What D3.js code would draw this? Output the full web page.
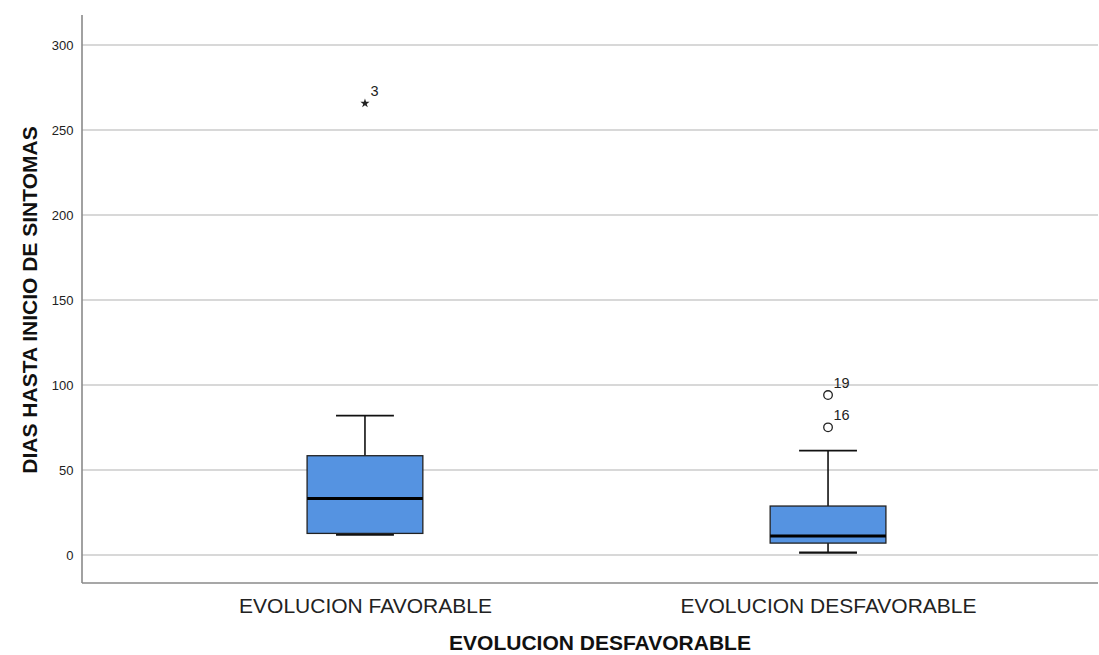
<!DOCTYPE html>
<html>
<head>
<meta charset="utf-8">
<script src="https://cdn.jsdelivr.net/npm/d3@7"></script>
<style>
  html, body { margin: 0; padding: 0; background: #fff; }
  svg { display: block; font-family: "Liberation Sans", Arial, sans-serif; }
</style>
</head>
<body>
<svg id="chart" width="1099" height="655"></svg>
<script>
// ---- data ----
const categories = ["EVOLUCION FAVORABLE", "EVOLUCION DESFAVORABLE"];
const whiskerLow  = [12, 1.4];
const q1          = [12.7, 7];
const median      = [33.3, 11.2];
const q3          = [58.4, 28.8];
const whiskerHigh = [82, 61.4];

const outlierCategory = ["EVOLUCION FAVORABLE", "EVOLUCION DESFAVORABLE", "EVOLUCION DESFAVORABLE"];
const outlierValue    = [265.7, 94.1, 75.1];
const outlierLabel    = ["3", "19", "16"];
const outlierType     = ["extreme", "mild", "mild"];

const yTicks = [0, 50, 100, 150, 200, 250, 300];
const yTitle = "DIAS HASTA INICIO DE SINTOMAS";
const xTitle = "EVOLUCION DESFAVORABLE";

// ---- layout ----
const svg = d3.select("#chart");
const pLeft = 82, pRight = 1098, pTop = 15, pBottom = 583;

const y = d3.scaleLinear().domain([0, 300]).range([555, 45]);
const x = d3.scalePoint().domain(categories).range([95, 1098]).padding(0.583);
const step = x.step();
const boxW = step * 0.25;
const capW = boxW * 0.5;

// gridlines
svg.append("g").selectAll("line").data(yTicks).join("line")
  .attr("x1", pLeft).attr("x2", pRight)
  .attr("y1", d => y(d)).attr("y2", d => y(d))
  .attr("stroke", "#cbcbcb").attr("stroke-width", 1.6);

// y axis
const yAxis = svg.append("g").attr("transform", `translate(${pLeft},0)`)
  .call(d3.axisLeft(y).tickValues(yTicks).tickSize(0).tickPadding(8.5));
yAxis.select(".domain").remove();
yAxis.selectAll("text").attr("font-size", 13).attr("fill", "#222")
  .attr("font-family", "'Liberation Sans', Arial, sans-serif");

// axis lines
svg.append("line").attr("x1", pLeft).attr("x2", pLeft).attr("y1", pTop).attr("y2", pBottom)
  .attr("stroke", "#8a8a8a").attr("stroke-width", 1.6);
svg.append("line").attr("x1", pLeft).attr("x2", pRight).attr("y1", pBottom).attr("y2", pBottom)
  .attr("stroke", "#8a8a8a").attr("stroke-width", 1.6);

// x axis labels
const xAxis = svg.append("g").attr("transform", `translate(0,${pBottom})`)
  .call(d3.axisBottom(x).tickSize(0));
xAxis.select(".domain").remove();
xAxis.selectAll("text").attr("font-size", 21).attr("fill", "#222")
  .attr("dy", null).attr("y", 30)
  .attr("font-family", "'Liberation Sans', Arial, sans-serif");

// boxes
const idx = d3.range(categories.length);
const g = svg.append("g");
g.selectAll(".wl").data(idx).join("line")
  .attr("x1", i => x(categories[i])).attr("x2", i => x(categories[i]))
  .attr("y1", i => y(whiskerHigh[i])).attr("y2", i => y(q3[i]))
  .attr("stroke", "#111").attr("stroke-width", 1.6);
g.selectAll(".wl2").data(idx).join("line")
  .attr("x1", i => x(categories[i])).attr("x2", i => x(categories[i]))
  .attr("y1", i => y(q1[i])).attr("y2", i => y(whiskerLow[i]))
  .attr("stroke", "#111").attr("stroke-width", 1.6);
g.selectAll(".capH").data(idx).join("line")
  .attr("x1", i => x(categories[i]) - capW / 2).attr("x2", i => x(categories[i]) + capW / 2)
  .attr("y1", i => y(whiskerHigh[i])).attr("y2", i => y(whiskerHigh[i]))
  .attr("stroke", "#111").attr("stroke-width", 1.6);
g.selectAll(".capL").data(idx).join("line")
  .attr("x1", i => x(categories[i]) - capW / 2).attr("x2", i => x(categories[i]) + capW / 2)
  .attr("y1", i => y(whiskerLow[i])).attr("y2", i => y(whiskerLow[i]))
  .attr("stroke", "#111").attr("stroke-width", 2.2);
g.selectAll(".box").data(idx).join("rect")
  .attr("x", i => x(categories[i]) - boxW / 2).attr("width", boxW)
  .attr("y", i => y(q3[i])).attr("height", i => y(q1[i]) - y(q3[i]))
  .attr("fill", "#5593e1").attr("stroke", "#222").attr("stroke-width", 1.3);
g.selectAll(".med").data(idx).join("line")
  .attr("x1", i => x(categories[i]) - boxW / 2).attr("x2", i => x(categories[i]) + boxW / 2)
  .attr("y1", i => y(median[i])).attr("y2", i => y(median[i]))
  .attr("stroke", "#000").attr("stroke-width", 3);

// outliers
const oi = d3.range(outlierValue.length);
const og = svg.append("g");
og.selectAll(".mild").data(oi.filter(i => outlierType[i] === "mild")).join("circle")
  .attr("cx", i => x(outlierCategory[i])).attr("cy", i => y(outlierValue[i]))
  .attr("r", 4.3).attr("fill", "none").attr("stroke", "#222").attr("stroke-width", 1.3);
og.selectAll(".ext").data(oi.filter(i => outlierType[i] === "extreme")).join("path")
  .attr("transform", i => `translate(${x(outlierCategory[i])},${y(outlierValue[i])})`)
  .attr("d", d3.symbol().type(d3.symbolStar).size(26))
  .attr("fill", "#222");
og.selectAll("text").data(oi).join("text")
  .attr("x", i => x(outlierCategory[i]) + 5.5).attr("y", i => y(outlierValue[i]) - 7.3)
  .attr("font-size", 14.5).attr("fill", "#222")
  .text(i => outlierLabel[i]);

// titles
svg.append("text")
  .attr("transform", `translate(37,300) rotate(-90)`)
  .attr("text-anchor", "middle").attr("font-size", 21).attr("font-weight", "bold")
  .attr("fill", "#111")
  .text(yTitle);
svg.append("text")
  .attr("x", 600).attr("y", 650)
  .attr("text-anchor", "middle").attr("font-size", 21).attr("font-weight", "bold")
  .attr("fill", "#111")
  .text(xTitle);
</script>
</body>
</html>
